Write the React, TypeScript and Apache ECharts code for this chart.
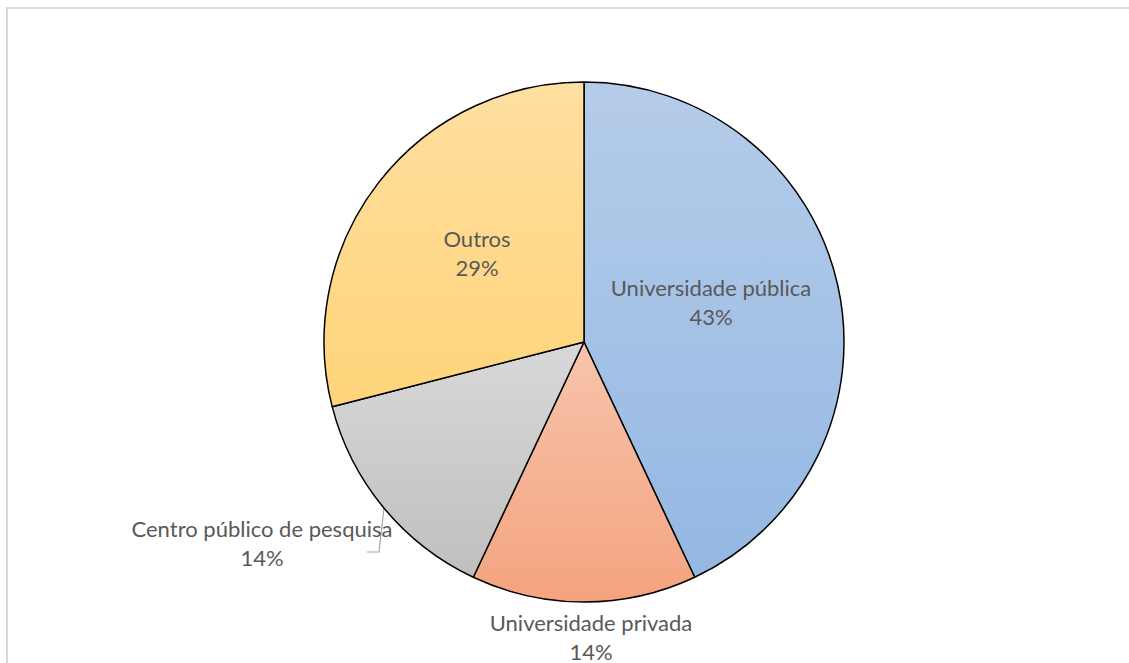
import React, { useEffect, useRef } from "react";
import * as echarts from "echarts";

const categories = ["Universidade pública", "Universidade privada", "Centro público de pesquisa", "Outros"];
const values = [43, 14, 14, 29];
const percentLabels = ["43%", "14%", "14%", "29%"];
const gradientTops = ["#b5cce9", "#f7c4ad", "#d8d8d8", "#ffdfa0"];
const gradientBottoms = ["#94b8e3", "#f4a37e", "#bfbfbf", "#ffd47a"];

const labelPos: Record<string, [number, number]> = {
  "Universidade pública": [711, 302],
  "Universidade privada": [591, 637],
  "Centro público de pesquisa": [262, 543],
  Outros: [477, 253],
};

export default function App() {
  const ref = useRef<HTMLDivElement>(null);
  useEffect(() => {
    if (!ref.current) return;
    const chart = echarts.init(ref.current, null, { renderer: "svg" });
    const data = categories.map((name, i) => ({
      name,
      value: values[i],
      itemStyle: {
        color: new echarts.graphic.LinearGradient(0, 0, 0, 1, [
          { offset: 0, color: gradientTops[i] },
          { offset: 1, color: gradientBottoms[i] },
        ]),
      },
      label: { position: i === 2 ? "outside" : "inside" },
      labelLine: { show: i === 2, lineStyle: { color: "#a6a6a6", width: 1.2 } },
    }));
    chart.setOption({
      animation: false,
      backgroundColor: "transparent",
      series: [
        {
          type: "pie",
          center: [584, 342],
          radius: 260,
          startAngle: 90,
          clockwise: true,
          data,
          itemStyle: { borderColor: "#000", borderWidth: 1.5 },
          label: {
            show: true,
            formatter: (p: any) => `${p.name}\n${percentLabels[p.dataIndex]}`,
            color: "#595959",
            fontFamily: "Lato",
            fontSize: 22,
            lineHeight: 29,
            align: "center",
          },
          emphasis: { disabled: true },
          labelLayout: (params: any) => {
            const name = categories[params.dataIndex];
            const pos = labelPos[name];
            const res: any = {
              x: pos[0],
              y: pos[1],
              align: "center",
              verticalAlign: "middle",
            };
            if (params.dataIndex === 2) {
              res.labelLinePoints = [
                [384, 508],
                [379, 552],
                [367, 552],
              ];
            }
            return res;
          },
        },
      ],
    });
    return () => chart.dispose();
  }, []);
  return (
    <div style={{ position: "fixed", left: 0, top: 0, width: 1129, height: 663, overflow: "hidden", background: "#fff" }}>
      <div
        style={{
          position: "absolute",
          left: 6,
          top: 7,
          width: 1300,
          height: 900,
          border: "2px solid #d9d9d9",
        }}
      />
      <div ref={ref} style={{ position: "absolute", left: 0, top: 0, width: 1129, height: 663 }} />
    </div>
  );
}
